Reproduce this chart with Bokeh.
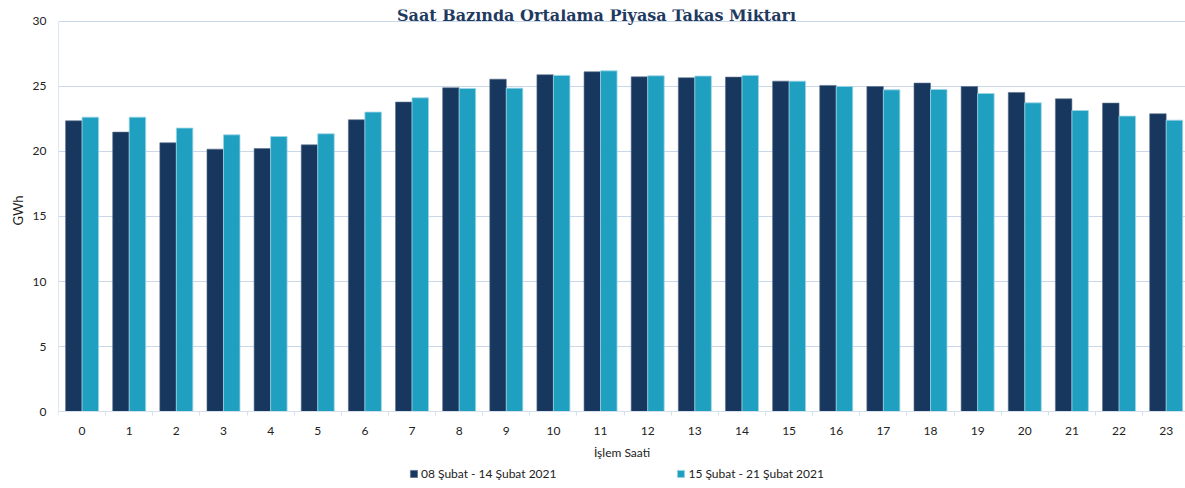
from bokeh.plotting import figure
from bokeh.models import ColumnDataSource, Range1d, FixedTicker, Legend, LegendItem, Label, LinearAxis, Title
from bokeh.transform import dodge
from bokeh.embed import file_html
from bokeh.resources import INLINE

hours = list(range(24))
hour_labels = [str(h) for h in hours]
week1 = [22.36, 21.49, 20.67, 20.18, 20.23, 20.51, 22.44, 23.80, 24.90, 25.56, 25.90, 26.13,
         25.74, 25.67, 25.72, 25.41, 25.08, 25.00, 25.26, 25.00, 24.54, 24.05, 23.72, 22.90]
week2 = [22.64, 22.64, 21.80, 21.28, 21.15, 21.36, 23.03, 24.13, 24.85, 24.87, 25.85, 26.20,
         25.82, 25.80, 25.85, 25.41, 25.00, 24.74, 24.77, 24.46, 23.74, 23.15, 22.72, 22.41]
series_names = ["08 Şubat - 14 Şubat 2021", "15 Şubat - 21 Şubat 2021"]
y_ticks = [0, 5, 10, 15, 20, 25, 30]
title_text = "Saat Bazında Ortalama Piyasa Takas Miktarı"
y_label_text = "GWh"

DARK = "#17375e"
LIGHT = "#1fa0c1"
FONT = "Lato"

src = ColumnDataSource(dict(hour=hours, w1=week1, w2=week2))

p = figure(width=1185, height=488, x_range=Range1d(-0.5, 23.41), y_range=Range1d(-5.92, 30.92),
           output_backend="svg", toolbar_location=None, x_axis_location=None,
           min_border_left=58, min_border_right=0, min_border_top=9, min_border_bottom=0)
p.outline_line_color = None
p.background_fill_color = "white"

r1 = p.vbar(x=dodge("hour", -0.175), top="w1", width=0.35, source=src,
            fill_color=DARK, line_color="#5a6f8c", line_width=0.6)
r2 = p.vbar(x=dodge("hour", 0.175), top="w2", width=0.35, source=src,
            fill_color=LIGHT, line_color="#9fd4e4", line_width=0.8)

# x axis, fixed at y = 0
xaxis = LinearAxis(fixed_location=0)
xaxis.ticker = FixedTicker(ticks=hours, minor_ticks=[h - 0.5 for h in hours] + [23.5])
xaxis.major_label_overrides = {h: l for h, l in zip(hours, hour_labels)}
xaxis.major_tick_line_color = None
xaxis.major_tick_out = 0
xaxis.major_tick_in = 0
xaxis.minor_tick_line_color = "#d6e0ec"
xaxis.minor_tick_out = 4
xaxis.minor_tick_in = 0
xaxis.axis_line_color = "#d6e0ec"
xaxis.major_label_text_font = FONT
xaxis.major_label_text_font_size = "12px"
xaxis.major_label_text_color = "#222222"
xaxis.major_label_standoff = 11
xaxis.axis_label = "İşlem Saati"
xaxis.axis_label_text_font = FONT
xaxis.axis_label_text_font_size = "12px"
xaxis.axis_label_text_font_style = "normal"
xaxis.axis_label_text_color = "#222222"
xaxis.axis_label_standoff = 7
p.add_layout(xaxis, "below")

# y axis
p.yaxis.ticker = FixedTicker(ticks=y_ticks)
p.yaxis.bounds = (0, 30)
p.yaxis.major_tick_line_color = None
p.yaxis.minor_tick_line_color = None
p.yaxis.major_tick_out = 0
p.yaxis.major_tick_in = 0
p.yaxis.minor_tick_out = 0
p.yaxis.minor_tick_in = 0
p.yaxis.axis_line_color = "#dce6f2"
p.yaxis.major_label_text_font = FONT
p.yaxis.major_label_text_font_size = "12px"
p.yaxis.major_label_text_color = "#222222"
p.yaxis.major_label_standoff = 12

p.xgrid.grid_line_color = None
p.ygrid.grid_line_color = "#c9d7e8"
p.ygrid.ticker = FixedTicker(ticks=y_ticks)

y_title = Title(text=y_label_text, align="left", offset=263, standoff=8,
                text_font=FONT, text_font_size="13px", text_font_style="normal",
                text_color="#222222")
p.add_layout(y_title, "left")

title = Label(x=10.915, y=30.47, text=title_text, text_align="center", text_baseline="middle",
              text_font="DejaVu Serif", text_font_style="bold", text_font_size="16px",
              text_color="#1f3a5f")
p.add_layout(title)

legend = Legend(items=[LegendItem(label=series_names[0], renderers=[r1]),
                       LegendItem(label=series_names[1], renderers=[r2])],
                orientation="horizontal", location=(351, 7), spacing=120,
                glyph_width=9, glyph_height=9, label_standoff=3,
                label_text_font=FONT, label_text_font_size="12px", label_text_color="#222222",
                border_line_color=None, background_fill_alpha=0, padding=3, margin=0)
p.add_layout(legend)

open("out.html", "w").write(file_html(p, INLINE))
